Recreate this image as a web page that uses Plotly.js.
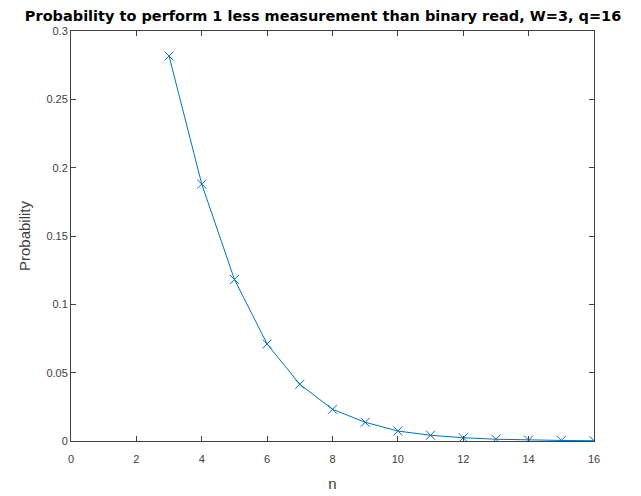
<!DOCTYPE html>
<html>
<head>
<meta charset="utf-8">
<script src="https://cdn.plot.ly/plotly-3.0.1.min.js"></script>
<style>html,body{margin:0;padding:0;background:#fff;}#chart{width:641px;height:496px;}</style>
</head>
<body>
<div id="chart"></div>
<script>
const nValues = [3, 4, 5, 6, 7, 8, 9, 10, 11, 12, 13, 14, 15, 16];
const probability = [0.2817, 0.188, 0.1182, 0.071, 0.0415, 0.0232, 0.0137, 0.0073, 0.0042, 0.0024, 0.0013, 0.0007, 0.0004, 0.0002];
const xTicks = [0, 2, 4, 6, 8, 10, 12, 14, 16];
const yTicks = [0, 0.05, 0.1, 0.15, 0.2, 0.25, 0.3];
const yTickLabels = ['0', '0.05', '0.1', '0.15', '0.2', '0.25', '0.3'];

const trace = {
  x: nValues,
  y: probability,
  type: 'scatter',
  mode: 'lines+markers',
  line: {color: '#0072BD', width: 1},
  marker: {symbol: 'x-thin-open', size: 9, color: '#0072BD', line: {color: '#0072BD', width: 1}},
  hoverinfo: 'none'
};

const axisCommon = {
  showgrid: false,
  zeroline: false,
  showline: true,
  linecolor: '#404040',
  linewidth: 1,
  mirror: 'ticks',
  ticks: 'inside',
  ticklen: 5,
  tickcolor: '#404040',
  tickfont: {family: 'Liberation Sans, Arial, sans-serif', size: 11, color: '#404040'}
};

const layout = {
  width: 641,
  height: 496,
  margin: {l: 71, r: 47, t: 31, b: 55},
  paper_bgcolor: '#ffffff',
  plot_bgcolor: '#ffffff',
  showlegend: false,
  title: {
    text: '<b>Probability to perform 1 less measurement than binary read, W=3, q=16</b>',
    font: {family: 'DejaVu Sans, sans-serif', size: 14.5, color: '#000000'},
    x: 0.504, xanchor: 'center', y: 0.968, yanchor: 'middle'
  },
  xaxis: Object.assign({}, axisCommon, {
    range: [0, 16],
    tickmode: 'array',
    tickvals: xTicks,
    ticklabelstandoff: 8,
    title: {text: 'n', font: {family: 'Liberation Sans, Arial, sans-serif', size: 15, color: '#404040'}, standoff: 14}
  }),
  yaxis: Object.assign({}, axisCommon, {
    range: [0, 0.3],
    tickmode: 'array',
    tickvals: yTicks,
    ticktext: yTickLabels,
    title: {text: 'Probability', font: {family: 'Liberation Sans, Arial, sans-serif', size: 15, color: '#404040'}, standoff: 12}
  })
};

Plotly.newPlot('chart', [trace], layout, {displayModeBar: false, staticPlot: true});
</script>
</body>
</html>
